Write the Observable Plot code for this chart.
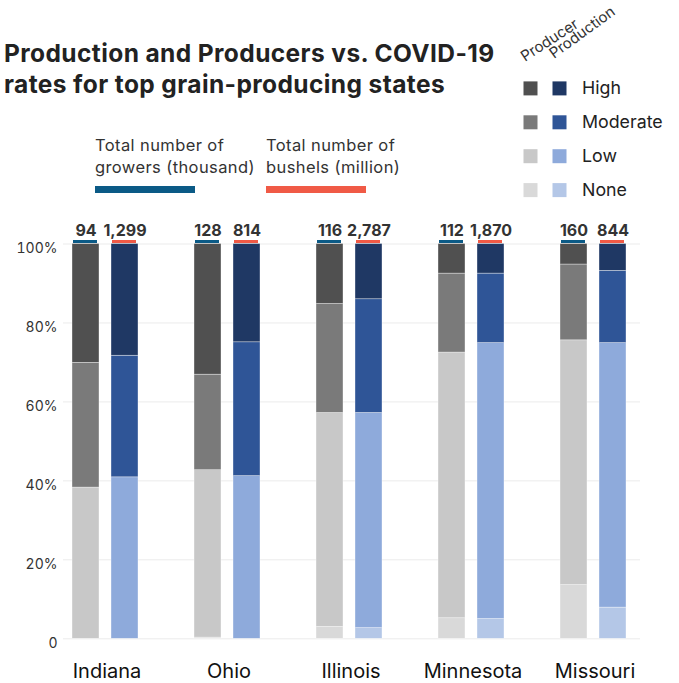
<!DOCTYPE html>
<html>
<head>
<meta charset="utf-8">
<script src="https://cdn.jsdelivr.net/npm/d3@7"></script>
<script src="https://cdn.jsdelivr.net/npm/@observablehq/plot@0.6"></script>
<style>
  body { margin: 0; background: #fff; }
  #chart { position: relative; width: 679px; height: 683px; font-family: Inter, "Noto Sans", sans-serif; color: #222; }
  #header { position: absolute; left: 0; top: 0; }
  #grid, #plot { position: absolute; left: 0; top: 200px; }
</style>
</head>
<body>
<div id="chart">
  <svg id="header" width="679" height="200"></svg>
  <div id="grid"></div>
  <div id="plot"></div>
</div>
<script>
// States and totals shown above each pair of bars
const states = ["Indiana", "Ohio", "Illinois", "Minnesota", "Missouri"];
const growers = [94, 128, 116, 112, 160];        // thousand growers
const bushels = [1299, 814, 2787, 1870, 844];    // million bushels

// COVID-19 rate levels, bottom to top of each stack
const levels = ["None", "Low", "Moderate", "High"];
const types = ["Producer", "Production"];

// Share (%) of producers by COVID-19 rate level
const producerNone     = [0.0,  0.3,  3.0,  5.2, 13.6];
const producerLow      = [38.3, 42.4, 54.2, 67.3, 62.0];
const producerModerate = [31.6, 24.2, 27.6, 20.0, 19.2];
const producerHigh     = [30.1, 33.1, 15.2,  7.5,  5.2];

// Share (%) of production by COVID-19 rate level
const productionNone     = [0.0,  0.0,  2.7,  5.0,  7.9];
const productionLow      = [40.9, 41.2, 54.5, 69.9, 67.0];
const productionModerate = [30.8, 33.9, 28.8, 17.6, 18.3];
const productionHigh     = [28.3, 24.9, 14.0,  7.5,  6.8];

const yTicks = [0, 20, 40, 60, 80, 100];

// Palettes (None, Low, Moderate, High)
const producerColors   = ["#d9d9d9", "#c8c8c8", "#7a7a7a", "#505050"];
const productionColors = ["#b4c7e7", "#8eaadb", "#2f5597", "#1f3864"];
const growersColor = "#0b5a86";
const bushelsColor = "#f05a46";

// Long-format table for the stacked bars
const producerByLevel = {None: producerNone, Low: producerLow, Moderate: producerModerate, High: producerHigh};
const productionByLevel = {None: productionNone, Low: productionLow, Moderate: productionModerate, High: productionHigh};
const rows = [];
states.forEach((state, i) => {
  levels.forEach(level => {
    rows.push({state, type: "Producer", level, value: producerByLevel[level][i]});
    rows.push({state, type: "Production", level, value: productionByLevel[level][i]});
  });
});
const totals = states.flatMap((state, i) => [
  {state, type: "Producer", total: growers[i]},
  {state, type: "Production", total: bushels[i]}
]);

const colorDomain = [...levels.map(l => `Producer ${l}`), ...levels.map(l => `Production ${l}`)];
const colorRange = [...producerColors, ...productionColors];
const fmt = d3.format(",");

// ---- Header: title, totals key and colour key ----
const header = d3.select("#header");
["Production and Producers vs. COVID-19", "rates for top grain-producing states"].forEach((line, j) => {
  header.append("text").attr("x", 4).attr("y", 62.3 + j * 31)
    .attr("font-size", 24.5).attr("font-weight", 700).attr("letter-spacing", 0.4).attr("fill", "#222")
    .text(line);
});

const keys = [
  {x: 95, lines: ["Total number of", "growers (thousand)"], color: growersColor},
  {x: 266, lines: ["Total number of", "bushels (million)"], color: bushelsColor}
];
keys.forEach(k => {
  k.lines.forEach((line, j) => {
    header.append("text").attr("x", k.x).attr("y", 150.7 + j * 22.6)
      .attr("font-size", 16.5).attr("letter-spacing", 0.4).attr("fill", "#333").text(line);
  });
  header.append("rect").attr("x", k.x).attr("y", 186).attr("width", 100).attr("height", 7).attr("fill", k.color);
});

header.append("text").attr("transform", "translate(525,62) rotate(-33)")
  .attr("font-size", 15).attr("fill", "#333").text("Producer");
header.append("text").attr("transform", "translate(554,59) rotate(-36)")
  .attr("font-size", 15).attr("fill", "#333").text("Production");

levels.slice().reverse().forEach((level, j) => {
  const cy = 88.4 + j * 33.9;
  const idx = levels.indexOf(level);
  header.append("rect").attr("x", 523.5).attr("y", cy - 7).attr("width", 14).attr("height", 14).attr("fill", producerColors[idx]);
  header.append("rect").attr("x", 552.5).attr("y", cy - 7).attr("width", 14).attr("height", 14).attr("fill", productionColors[idx]);
  header.append("text").attr("x", 582).attr("y", cy + 5.5)
    .attr("font-size", 17.8).attr("fill", "#222").text(level);
});

// Shared frame for both layers
const frame = {width: 679, height: 483, marginTop: 43.5, marginBottom: 44.7, marginLeft: 63, marginRight: 39};

// ---- Background layer: gridlines and percentage axis ----
const grid = Plot.plot({
  ...frame,
  style: {fontFamily: "Inter, 'Noto Sans', sans-serif", background: "transparent", color: "#333"},
  y: {domain: [0, 100], axis: null},
  marks: [
    Plot.gridY({ticks: yTicks, stroke: "#ebebeb", strokeOpacity: 1}),
    Plot.axisY({ticks: yTicks, tickSize: 0, tickPadding: 6, fontSize: 14, dy: 5, label: null,
      tickFormat: d => d === 0 ? "0" : `${d}%`})
  ]
});
document.getElementById("grid").appendChild(grid);

// ---- Stacked bars, faceted by state ----
const chart = Plot.plot({
  ...frame,
  style: {fontFamily: "Inter, 'Noto Sans', sans-serif", background: "transparent", color: "#333"},
  fx: {domain: states, paddingInner: 0.449, paddingOuter: 0.0796, align: 0.359, axis: null, label: null},
  x: {domain: types, paddingInner: 0.3125, paddingOuter: 0, axis: null},
  y: {domain: [0, 100], axis: null},
  color: {domain: colorDomain, range: colorRange},
  marks: [
    Plot.barY(rows, {
      fx: "state", x: "type", y: "value",
      fill: d => `${d.type} ${d.level}`,
      order: levels,
      z: "level",
      stroke: "#fff", strokeWidth: 0.6, strokeOpacity: 0.6
    }),
    Plot.tickY(totals.filter(d => d.type === "Producer"), {
      fx: "state", x: "type", y: () => 100, dy: -2.5, stroke: growersColor, strokeWidth: 3, insetLeft: 1, insetRight: 2
    }),
    Plot.tickY(totals.filter(d => d.type === "Production"), {
      fx: "state", x: "type", y: () => 100, dy: -2.5, stroke: bushelsColor, strokeWidth: 3, insetLeft: 1, insetRight: 2
    }),
    Plot.text(totals, {
      fx: "state", x: "type", text: d => fmt(d.total), frameAnchor: "top", lineAnchor: "middle", dy: -13,
      fontWeight: 700, fontSize: 16, letterSpacing: 1, fill: "#333"
    }),
    Plot.axisFx({anchor: "bottom", tickSize: 0, tickPadding: 25, fontSize: 20, label: null, fill: "#111", dx: 2})
  ]
});
document.getElementById("plot").appendChild(chart);
</script>
</body>
</html>
